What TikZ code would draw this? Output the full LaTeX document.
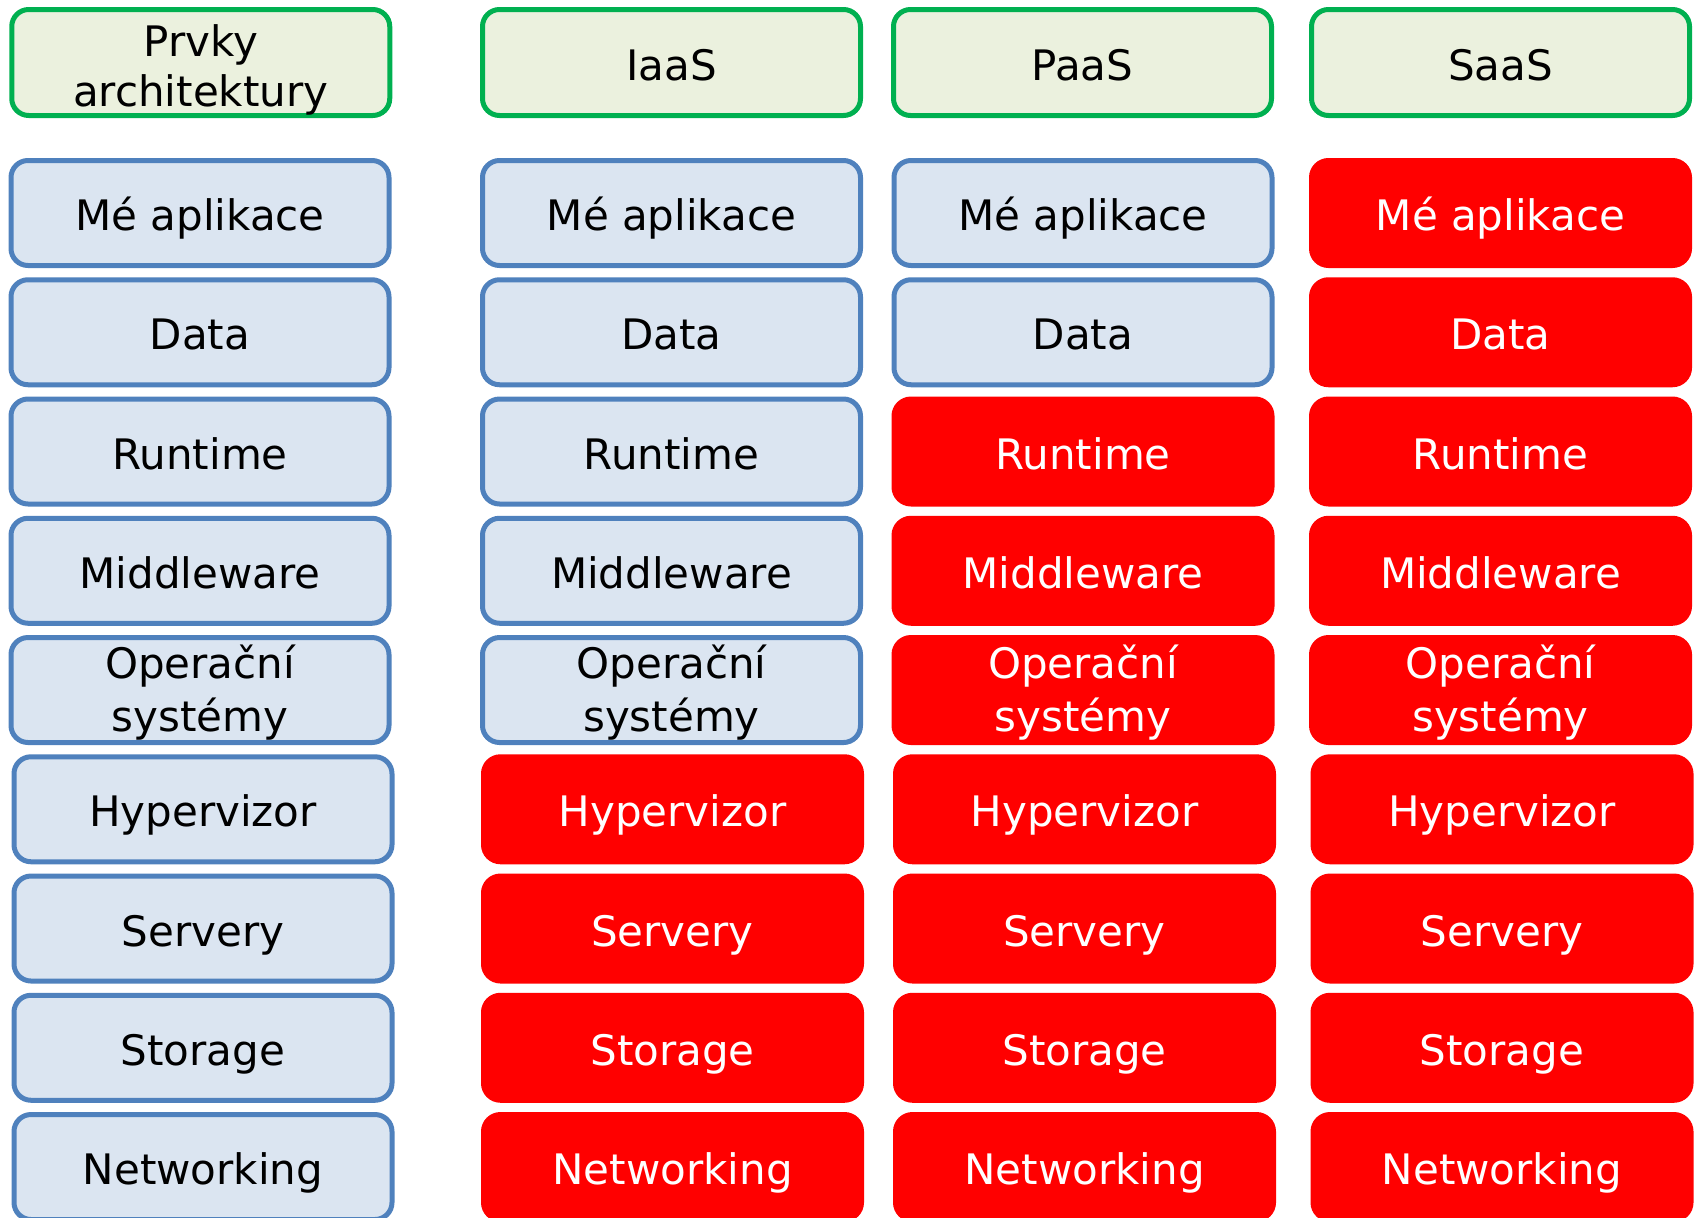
\documentclass[tikz,border=0pt]{standalone}
\usepackage{fontspec}
\setmainfont{DejaVu Sans}
\definecolor{hdrline}{HTML}{00B050}
\definecolor{hdrfill}{HTML}{EBF1DE}
\definecolor{usrline}{HTML}{4F81BD}
\definecolor{usrfill}{HTML}{DBE5F1}
\definecolor{provfill}{HTML}{FF0000}
\begin{document}
\begin{tikzpicture}[x=0.5pt,y=-0.5pt,
  cell/.style={rounded corners=8.5pt, line width=2.5pt, minimum width=189pt,
    minimum height=52.5pt, inner sep=0pt, align=center,
    font=\fontsize{21}{25}\selectfont},
  oneline/.style={text height=17.5pt, text depth=0pt},
  twoline/.style={text height=43.8pt, text depth=0pt},
  hdr/.style={cell, draw=hdrline, fill=hdrfill, text=black, minimum height=53pt}]
\useasboundingbox (0,0) rectangle (1698,1217);
% headers
\node[hdr,twoline] (hp) at (200.75,62.5) {Prvky\\architektury};
\node[hdr,oneline] (hi) at (671.5,62.5) {IaaS};
\node[hdr,oneline] (hpa) at (1082.5,62.5) {PaaS};
\node[hdr,oneline] (hs) at (1500.5,62.5) {SaaS};
% layers
\foreach \col/\cx/\cxl/\thr in {p/200/203/9, i/671.5/672.5/5, pa/1083/1084.5/2, s/1500.5/1502/0} {
  \foreach \t [count=\r from 0] in {Mé aplikace, Data, Runtime, Middleware, {Operační\\systémy}, Hypervizor, Servery, Storage, Networking} {
    \pgfmathsetmacro\yy{213+119.25*\r}
    \ifnum\r<\thr
      \def\fc{usrfill}\def\dc{usrline}\def\tc{black}%
    \else
      \def\fc{provfill}\def\dc{provfill}\def\tc{white}%
    \fi
    \ifnum\r<5 \let\xx\cx \else \let\xx\cxl \fi
    \ifnum\r=4
      \def\th{41.5pt}\def\fs{\fontsize{21}{26.5}\selectfont}%
    \else
      \def\th{17.5pt}\def\fs{\fontsize{21}{25}\selectfont}%
    \fi
    \node[cell, fill=\fc, draw=\dc, text=\tc, text height=\th, text depth=0pt, font=\fs] (\col\r) at (\xx,\yy) {\t};
  }
}
\end{tikzpicture}
\end{document}
